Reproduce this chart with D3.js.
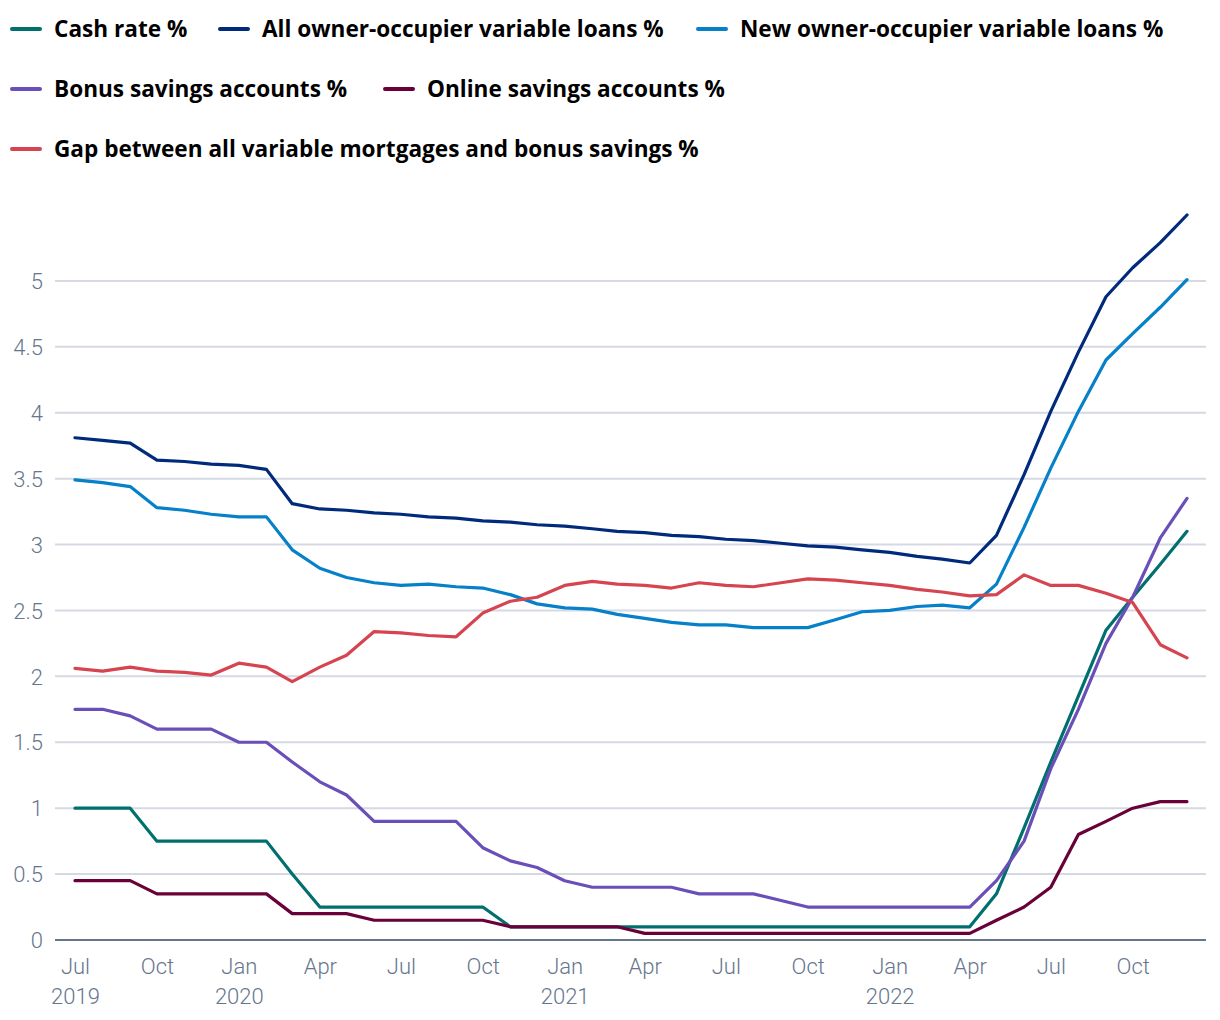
<!DOCTYPE html>
<html>
<head>
<meta charset="utf-8">
<script src="https://cdn.jsdelivr.net/npm/d3@7"></script>
<style>
  html, body { margin: 0; padding: 0; background: #fff; }
  svg { display: block; }
</style>
</head>
<body>
<svg id="chart" width="1220" height="1020"></svg>
<script>
// ---- DATA ----
const months = [
  "2019-07","2019-08","2019-09","2019-10","2019-11","2019-12",
  "2020-01","2020-02","2020-03","2020-04","2020-05","2020-06",
  "2020-07","2020-08","2020-09","2020-10","2020-11","2020-12",
  "2021-01","2021-02","2021-03","2021-04","2021-05","2021-06",
  "2021-07","2021-08","2021-09","2021-10","2021-11","2021-12",
  "2022-01","2022-02","2022-03","2022-04","2022-05","2022-06",
  "2022-07","2022-08","2022-09","2022-10","2022-11","2022-12"
];
const cashRate = [
  1.00,1.00,1.00,0.75,0.75,0.75,
  0.75,0.75,0.50,0.25,0.25,0.25,
  0.25,0.25,0.25,0.25,0.10,0.10,
  0.10,0.10,0.10,0.10,0.10,0.10,
  0.10,0.10,0.10,0.10,0.10,0.10,
  0.10,0.10,0.10,0.10,0.35,0.85,
  1.35,1.85,2.35,2.60,2.85,3.10
];
const allOwnerVariable = [
  3.81,3.79,3.77,3.64,3.63,3.61,
  3.60,3.57,3.31,3.27,3.26,3.24,
  3.23,3.21,3.20,3.18,3.17,3.15,
  3.14,3.12,3.10,3.09,3.07,3.06,
  3.04,3.03,3.01,2.99,2.98,2.96,
  2.94,2.91,2.89,2.86,3.07,3.53,
  4.01,4.46,4.88,5.10,5.29,5.50
];
const newOwnerVariable = [
  3.49,3.47,3.44,3.28,3.26,3.23,
  3.21,3.21,2.96,2.82,2.75,2.71,
  2.69,2.70,2.68,2.67,2.62,2.55,
  2.52,2.51,2.47,2.44,2.41,2.39,
  2.39,2.37,2.37,2.37,2.43,2.49,
  2.50,2.53,2.54,2.52,2.70,3.13,
  3.58,4.01,4.40,4.60,4.80,5.01
];
const bonusSavings = [
  1.75,1.75,1.70,1.60,1.60,1.60,
  1.50,1.50,1.35,1.20,1.10,0.90,
  0.90,0.90,0.90,0.70,0.60,0.55,
  0.45,0.40,0.40,0.40,0.40,0.35,
  0.35,0.35,0.30,0.25,0.25,0.25,
  0.25,0.25,0.25,0.25,0.45,0.75,
  1.30,1.75,2.25,2.60,3.05,3.35
];
const onlineSavings = [
  0.45,0.45,0.45,0.35,0.35,0.35,
  0.35,0.35,0.20,0.20,0.20,0.15,
  0.15,0.15,0.15,0.15,0.10,0.10,
  0.10,0.10,0.10,0.05,0.05,0.05,
  0.05,0.05,0.05,0.05,0.05,0.05,
  0.05,0.05,0.05,0.05,0.15,0.25,
  0.40,0.80,0.90,1.00,1.05,1.05
];
const gapMortgageBonus = [
  2.06,2.04,2.07,2.04,2.03,2.01,
  2.10,2.07,1.96,2.07,2.16,2.34,
  2.33,2.31,2.30,2.48,2.57,2.60,
  2.69,2.72,2.70,2.69,2.67,2.71,
  2.69,2.68,2.71,2.74,2.73,2.71,
  2.69,2.66,2.64,2.61,2.62,2.77,
  2.69,2.69,2.63,2.56,2.24,2.14
];
const seriesNames = [
  "Cash rate %",
  "All owner-occupier variable loans %",
  "New owner-occupier variable loans %",
  "Bonus savings accounts %",
  "Online savings accounts %",
  "Gap between all variable mortgages and bonus savings %"
];
const seriesValues = [cashRate, allOwnerVariable, newOwnerVariable, bonusSavings, onlineSavings, gapMortgageBonus];
const seriesColors = ["#00706e", "#002a7c", "#0580c9", "#6a4fb8", "#6a0038", "#d5444f"];
const yTicks = [0, 0.5, 1, 1.5, 2, 2.5, 3, 3.5, 4, 4.5, 5];
const xTickMonths = ["2019-07","2019-10","2020-01","2020-04","2020-07","2020-10","2021-01","2021-04","2021-07","2021-10","2022-01","2022-04","2022-07","2022-10"];

// ---- CHART ----
const svg = d3.select("#chart");
const parse = d3.timeParse("%Y-%m");
const dates = months.map(parse);

const x = d3.scaleTime().domain([dates[0], dates[dates.length - 1]]).range([75, 1187]);
const y = d3.scaleLinear().domain([0, 5.5]).range([940, 215]);

const gridLeft = 55, gridRight = 1206;
const axisColor = "#66768d";
const tickFont = "Roboto, 'Noto Sans', sans-serif";
const legendFont = "'Open Sans', 'Noto Sans', sans-serif";

// gridlines
svg.append("g").selectAll("line")
  .data(yTicks.filter(d => d > 0))
  .join("line")
  .attr("x1", gridLeft).attr("x2", gridRight)
  .attr("y1", d => y(d)).attr("y2", d => y(d))
  .attr("stroke", "#d5d9e3").attr("stroke-width", 2);

// y axis labels
const yAxis = d3.axisLeft(y).tickValues(yTicks).tickSize(0).tickPadding(0).tickFormat(d3.format("~g"));
const gy = svg.append("g").attr("transform", "translate(43,0)").call(yAxis);
gy.select(".domain").remove();
gy.selectAll("text")
  .attr("font-family", tickFont).attr("font-size", 22).attr("font-weight", 300)
  .attr("fill", axisColor).attr("dy", "0.35em");

// baseline
svg.append("line")
  .attr("x1", gridLeft).attr("x2", gridRight)
  .attr("y1", y(0)).attr("y2", y(0))
  .attr("stroke", axisColor).attr("stroke-width", 2);

// x axis
const xAxis = d3.axisBottom(x).tickValues(xTickMonths.map(parse)).tickSize(0).tickPadding(0)
  .tickFormat(d3.timeFormat("%b"));
const gx = svg.append("g").attr("transform", `translate(0,${y(0)})`).call(xAxis);
gx.select(".domain").remove();
gx.selectAll("text")
  .attr("font-family", tickFont).attr("font-size", 22).attr("font-weight", 300)
  .attr("fill", axisColor).attr("dy", null).attr("y", 34);
gx.selectAll(".tick").filter(d => d.getMonth() === 0 || (d.getMonth() === 6 && d.getFullYear() === 2019))
  .append("text")
  .attr("font-family", tickFont).attr("font-size", 22).attr("font-weight", 300)
  .attr("fill", axisColor).attr("text-anchor", "middle").attr("y", 64)
  .text(d => d.getFullYear());

// lines
const line = d3.line().x((d, i) => x(dates[i])).y(d => y(d));
svg.append("g").selectAll("path")
  .data(seriesValues)
  .join("path")
  .attr("d", d => line(d))
  .attr("fill", "none")
  .attr("stroke", (d, i) => seriesColors[i])
  .attr("stroke-width", 3.2)
  .attr("stroke-linejoin", "round")
  .attr("stroke-linecap", "round");

// legend
const legendPos = [
  [10, 29], [218, 29], [696, 29],
  [10, 89], [383, 89],
  [10, 149]
];
const lg = svg.append("g").selectAll("g")
  .data(seriesNames)
  .join("g")
  .attr("transform", (d, i) => `translate(${legendPos[i][0]},${legendPos[i][1]})`);
lg.append("line")
  .attr("x1", 2).attr("x2", 30).attr("y1", 0).attr("y2", 0)
  .attr("stroke", (d, i) => seriesColors[i]).attr("stroke-width", 4).attr("stroke-linecap", "round");
lg.append("text")
  .attr("x", 44).attr("dy", "0.35em")
  .attr("font-family", legendFont).attr("font-size", 22.6).attr("font-weight", 700)
  .attr("fill", "#000")
  .text(d => d);
</script>
</body>
</html>
